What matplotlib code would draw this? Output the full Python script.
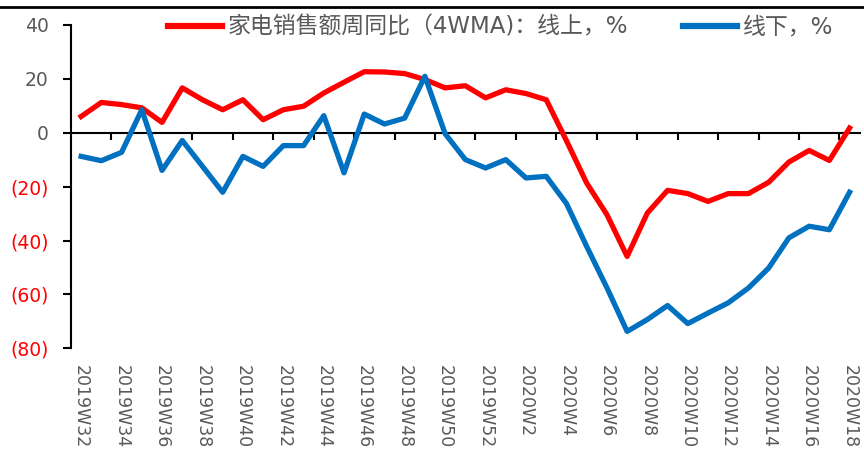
import numpy as np
import matplotlib
matplotlib.use("Agg")
import matplotlib.pyplot as plt
from matplotlib.lines import Line2D

plt.rcParams['font.family'] = ['DejaVu Sans', 'Noto Sans CJK SC']

weeks = [f"2019W{w}" for w in range(32, 53)] + [f"2020W{w}" for w in range(1, 19)]
online = [6.0, 11.2, 10.4, 9.2, 3.8, 16.6, 12.2, 8.5, 12.2, 4.8, 8.5, 9.8, 14.7, 18.7,
          22.6, 22.5, 21.9, 19.7, 16.6, 17.4, 12.9,
          15.9, 14.5, 12.2, -3.0, -18.7, -30.4, -45.9, -29.8, -21.4, -22.6, -25.5,
          -22.6, -22.6, -18.4, -10.9, -6.6, -10.3, 1.7]
offline = [-8.8, -10.4, -7.3, 8.5, -14.0, -2.9, -12.5, -22.1, -8.8, -12.5, -4.8, -4.8,
           6.3, -14.9, 6.9, 3.2, 5.4, 20.9, -0.4, -10.0, -13.1,
           -10.0, -16.8, -16.2, -26.3, -42.2, -57.5, -73.7, -69.3, -64.1, -70.8, -66.9,
           -63.1, -57.6, -50.2, -39.0, -34.7, -36.0, -22.1]
yticks = [40, 20, 0, -20, -40, -60, -80]
ylabels = ["40", "20", "0", "(20)", "(40)", "(60)", "(80)"]
legend_labels = ["家电销售额周同比（4WMA)：线上，%", "线下，%"]

x = np.arange(len(weeks))

fig = plt.figure(figsize=(8.64, 4.59), dpi=100)
ax = fig.add_axes([0.0822, 0.241, 0.9128, 0.705])

ax.plot(x, online, color='#FF0000', lw=3.8, solid_joinstyle='round', label=legend_labels[0], zorder=3)
ax.plot(x, offline, color='#0070C0', lw=3.8, solid_joinstyle='round', label=legend_labels[1], zorder=3)

ax.set_xlim(-0.5, len(weeks) - 0.5)
ax.set_ylim(-80, 40)

for s in ['top', 'right']:
    ax.spines[s].set_visible(False)
ax.spines['bottom'].set_position(('data', 0))
ax.spines['bottom'].set_linewidth(1.5)
ax.spines['left'].set_linewidth(1.5)
ax.spines['bottom'].set_zorder(2)

ax.set_xticks([])
ax.set_xticks(np.arange(1.5, len(weeks) - 1, 2), minor=True)
ax.tick_params(axis='x', which='minor', direction='out', length=5, width=1.5, labelbottom=False)

ax.set_yticks(yticks)
ax.set_yticklabels(ylabels)
ax.tick_params(axis='y', direction='out', length=6, width=1.5, labelsize=13.5, pad=10)
for lab, v in zip(ax.get_yticklabels(), yticks):
    lab.set_color('#FF0000' if v < 0 else '#595959')

sec = ax.secondary_xaxis('bottom')
sec.spines['bottom'].set_visible(False)
sec.set_xticks(x[::2])
sec.set_xticklabels(weeks[::2], rotation=270, color='#595959', fontsize=12.5)
sec.tick_params(axis='x', length=0, pad=12)

leg = ax.legend(loc='center', bbox_to_anchor=(0.579, 0.941), bbox_transform=fig.transFigure,
                ncol=2, frameon=False, fontsize=16.5, handlelength=2.36, handletextpad=0.25,
                columnspacing=2.4, labelcolor='#595959')
for h in leg.get_lines():
    h.set_linewidth(4.5)

fig.add_artist(Line2D([0, 1], [1 - 6.5 / 459, 1 - 6.5 / 459], transform=fig.transFigure,
                      color='black', lw=2))

fig.savefig('out.png', dpi=100)
